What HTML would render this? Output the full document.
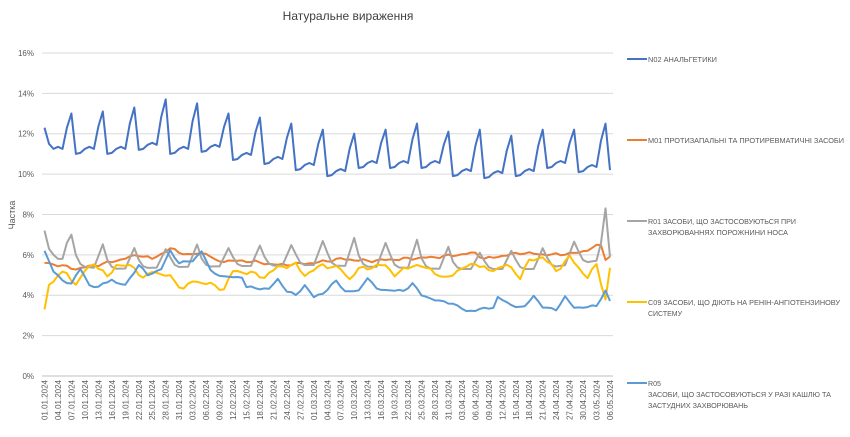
<!DOCTYPE html>
<html><head><meta charset="utf-8"><style>
html,body{margin:0;padding:0;background:#fff;width:850px;height:437px;overflow:hidden}
svg{font-family:"Liberation Sans",sans-serif}
</style></head><body>
<svg id="s" width="850" height="437" xmlns="http://www.w3.org/2000/svg">
<text x="348" y="20" font-size="12" fill="#404040" text-anchor="middle">Натуральне вираження</text>
<text transform="translate(15,215) rotate(-90)" font-size="9" fill="#595959" text-anchor="middle">Частка</text>
<g id="grid"></g><g id="xl"></g><g id="ser"></g>
<g font-size="7.5" fill="#595959">
<line x1="627" y1="59" x2="647" y2="59" stroke="#4472C4" stroke-width="2"/>
<text x="648" y="62" textLength="69" lengthAdjust="spacingAndGlyphs">N02 АНАЛЬГЕТИКИ</text>
<line x1="627" y1="140" x2="647" y2="140" stroke="#ED7D31" stroke-width="2"/>
<text x="648" y="143" textLength="196" lengthAdjust="spacingAndGlyphs">M01 ПРОТИЗАПАЛЬНІ ТА ПРОТИРЕВМАТИЧНІ ЗАСОБИ</text>
<line x1="627" y1="221" x2="647" y2="221" stroke="#A5A5A5" stroke-width="2"/>
<text x="648" y="224" textLength="148" lengthAdjust="spacingAndGlyphs">R01 ЗАСОБИ, ЩО ЗАСТОСОВУЮТЬСЯ ПРИ</text>
<text x="648" y="235" textLength="140" lengthAdjust="spacingAndGlyphs">ЗАХВОРЮВАННЯХ ПОРОЖНИНИ НОСА</text>
<line x1="627" y1="302" x2="647" y2="302" stroke="#FFC000" stroke-width="2"/>
<text x="648" y="305" textLength="192" lengthAdjust="spacingAndGlyphs">C09 ЗАСОБИ, ЩО ДІЮТЬ НА РЕНІН-АНГІОТЕНЗИНОВУ</text>
<text x="648" y="316" textLength="34" lengthAdjust="spacingAndGlyphs">СИСТЕМУ</text>
<line x1="627" y1="383" x2="647" y2="383" stroke="#5B9BD5" stroke-width="2"/>
<text x="648" y="386" textLength="13" lengthAdjust="spacingAndGlyphs">R05</text>
<text x="648" y="397" textLength="183" lengthAdjust="spacingAndGlyphs">ЗАСОБИ, ЩО ЗАСТОСОВУЮТЬСЯ У РАЗІ КАШЛЮ ТА</text>
<text x="648" y="408" textLength="100" lengthAdjust="spacingAndGlyphs">ЗАСТУДНИХ ЗАХВОРЮВАНЬ</text>
</g>
</svg>
<script>
var NS="http://www.w3.org/2000/svg";
function el(p,t,a,txt){var e=document.createElementNS(NS,t);for(var k in a)e.setAttribute(k,a[k]);if(txt!=null)e.textContent=txt;document.getElementById(p).appendChild(e);return e;}
var Y=function(v){return 376-v*20.19;};
for(var i=0;i<=8;i++){var y=Y(i*2);el("grid","line",{x1:42,x2:613,y1:y,y2:y,stroke:"#d9d9d9","stroke-width":1});
el("grid","text",{x:34,y:y+3,"font-size":"8","fill":"#595959","text-anchor":"end"},(i*2)+"%");}
el("grid","line",{x1:42,x2:613,y1:376,y2:376,stroke:"#bfbfbf","stroke-width":1});
var N=127,x0=44.5,st=565.5/126;function X(i){return x0+i*st;}
var d0=new Date(2024,0,1);
for(var i=0;i<N;i+=3){var d=new Date(d0.getTime()+i*864e5+3600e3*3);var s=("0"+d.getDate()).slice(-2)+"."+("0"+(d.getMonth()+1)).slice(-2)+".2024";
var x=X(i)+3;el("xl","text",{transform:"translate("+x+",380) rotate(-90)","font-size":"8","fill":"#595959","text-anchor":"end"},s);}
function interp(k,i){for(var j=0;j<k.length-1;j++){if(i>=k[j][0]&&i<=k[j+1][0]){var t=(i-k[j][0])/(k[j+1][0]-k[j][0]);return k[j][1]+t*(k[j+1][1]-k[j][1]);}}return k[k.length-1][1];}
var base=[11.0,11.0,11.0,11.2,11.0,11.1,10.7,10.5,10.2,9.9,10.3,10.3,10.3,9.9,9.8,9.9,10.3,10.1,10.4];
var peak=[13.0,13.1,13.3,13.7,13.5,13.0,12.8,12.5,12.2,12.0,12.2,12.5,12.1,12.2,11.9,12.2,12.2,12.5];
var off=[0,0.05,0.25,0.35,0.25];
var n02=[];for(var i=0;i<N;i++){var w=Math.floor(i/7),dw=i%7,v;
if(dw<5)v=base[w]+off[dw];else if(dw==5)v=base[w]+(peak[w]-base[w])*0.65;else v=peak[w];
if(i==0)v=12.3;if(i==1)v=11.5;if(i==126)v=10.2;n02.push(v);}
function gen(keys,amp,ph){var a=[];for(var i=0;i<N;i++)a.push(interp(keys,i)+amp*Math.sin(i*1.7+ph)*Math.sin(i*0.37));return a;}
var m01=gen([[0,5.6],[3,5.5],[7,5.3],[14,5.6],[21,6.0],[24,5.8],[28,6.3],[32,6.0],[36,6.1],[38,5.7],[45,5.7],[52,5.5],[60,5.6],[66,5.8],[72,5.7],[80,5.8],[88,5.9],[96,6.1],[98,5.8],[106,6.1],[113,6.0],[119,6.1],[124,6.5],[125,5.8],[126,5.9]],0.08,0);
var r01=[];for(var i=0;i<N;i++){var dw=i%7,w=Math.floor(i/7);var b=interp([[0,5.6],[14,5.3],[30,5.4],[60,5.5],[90,5.3],[110,5.3],[126,5.8]],i);
var pk=[6.0,1.2,1.0,0.9,1.1,0.9,1.0,1.0,1.2,1.4,1.2,1.4,1.1,0.8,0.9,1.0,1.1,1.3,0.6][w];
var v=b+(dw==6?pk:dw==5?pk*0.5:dw==0?pk*0.45:dw==1?pk*0.1:0);if(i==0)v=7.2;if(i==1)v=6.3;if(i==2)v=6.0;if(i==3)v=5.8;if(i==4)v=5.8;if(i==5)v=6.6;if(i==6)v=7.0;if(i==125)v=8.3;if(i==124)v=6.6;if(i==126)v=5.9;r01.push(v);}
var c09=gen([[0,3.3],[1,4.5],[3,5.0],[5,5.1],[7,4.5],[9,5.2],[11,5.6],[14,4.9],[16,5.5],[20,5.4],[22,4.8],[24,5.2],[28,4.9],[31,4.3],[33,4.7],[36,4.6],[40,4.3],[42,5.2],[46,5.1],[49,4.9],[52,5.4],[56,5.5],[58,5.0],[62,5.5],[66,5.3],[68,4.8],[70,5.3],[76,5.5],[78,5.0],[82,5.5],[86,5.3],[89,4.8],[92,5.2],[96,5.6],[99,5.2],[103,5.5],[106,4.9],[108,5.7],[111,5.9],[114,5.2],[117,5.9],[120,5.1],[121,4.9],[123,5.5],[125,3.8],[126,5.3]],0.12,1);
var r05=gen([[0,6.2],[2,5.2],[4,4.7],[6,4.6],[8,5.3],[10,4.5],[12,4.4],[15,4.8],[16,4.6],[18,4.5],[21,5.5],[23,5.0],[26,5.3],[28,6.2],[30,5.6],[33,5.7],[35,6.2],[37,5.2],[40,4.9],[44,4.9],[45,4.4],[50,4.3],[52,4.8],[54,4.2],[56,4.0],[58,4.5],[60,3.9],[62,4.1],[65,4.7],[67,4.2],[70,4.2],[72,4.9],[74,4.3],[80,4.2],[82,4.6],[84,4.0],[88,3.7],[91,3.6],[94,3.2],[97,3.3],[100,3.4],[101,3.9],[104,3.5],[107,3.4],[109,4.0],[111,3.4],[114,3.3],[116,3.9],[118,3.4],[121,3.4],[123,3.5],[125,4.2],[126,3.7]],0.06,2);
function path(a,c){var d="";for(var i=0;i<a.length;i++)d+=(i?"L":"M")+X(i).toFixed(1)+","+Y(a[i]).toFixed(1);el("ser","path",{d:d,fill:"none",stroke:c,"stroke-width":2,"stroke-linejoin":"round"});}
path(m01,"#ED7D31");path(r01,"#A5A5A5");path(c09,"#FFC000");path(r05,"#5B9BD5");path(n02,"#4472C4");
</script>
</body></html>
